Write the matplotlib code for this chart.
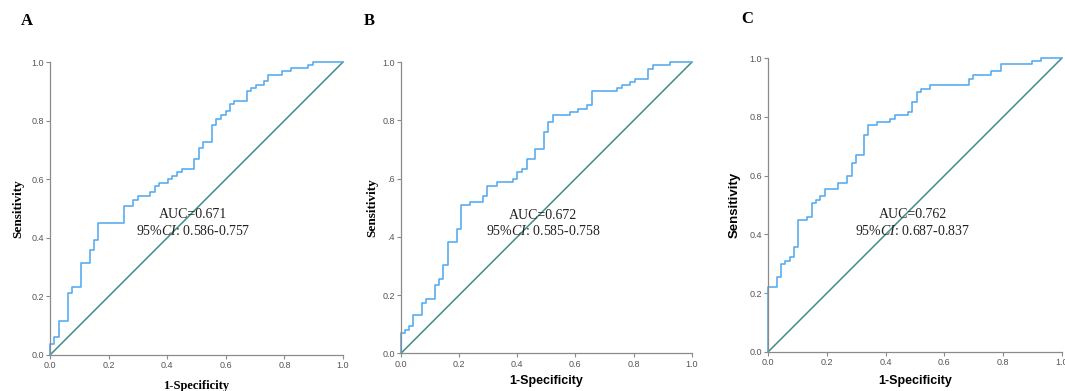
import matplotlib
matplotlib.use("Agg")
import matplotlib.pyplot as plt

plt.rcParams["mathtext.fontset"] = "custom"
plt.rcParams["mathtext.rm"] = "Liberation Serif"
plt.rcParams["mathtext.it"] = "Liberation Serif:italic"

# ROC step vertices (1-specificity, sensitivity)
fpr_a = [0, 0, 0.015, 0.015, 0.03, 0.03, 0.06, 0.06, 0.074, 0.074, 0.106, 0.106,
         0.136, 0.136, 0.15, 0.15, 0.165, 0.165, 0.253, 0.253, 0.284, 0.284,
         0.299, 0.299, 0.343, 0.343, 0.358, 0.358, 0.373, 0.373, 0.403, 0.403,
         0.418, 0.418, 0.432, 0.432, 0.449, 0.449, 0.492, 0.492, 0.508, 0.508,
         0.523, 0.523, 0.553, 0.553, 0.568, 0.568, 0.582, 0.582, 0.599, 0.599,
         0.614, 0.614, 0.628, 0.628, 0.673, 0.673, 0.6875, 0.6875, 0.702, 0.702,
         0.73, 0.73, 0.744, 0.744, 0.793, 0.793, 0.824, 0.824, 0.88, 0.88,
         0.898, 0.898, 1.0]
tpr_a = [0, 0.0375, 0.0375, 0.06, 0.06, 0.117, 0.117, 0.21, 0.21, 0.233, 0.233,
         0.3125, 0.3125, 0.36, 0.36, 0.394, 0.394, 0.451, 0.451, 0.508, 0.508,
         0.53, 0.53, 0.544, 0.544, 0.556, 0.556, 0.576, 0.576, 0.588, 0.588,
         0.6, 0.6, 0.61, 0.61, 0.624, 0.624, 0.635, 0.635, 0.669, 0.669, 0.705,
         0.705, 0.727, 0.727, 0.784, 0.784, 0.807, 0.807, 0.82, 0.82, 0.832,
         0.832, 0.855, 0.855, 0.866, 0.866, 0.9, 0.9, 0.911, 0.911, 0.923,
         0.923, 0.934, 0.934, 0.957, 0.957, 0.968, 0.968, 0.98, 0.98, 0.989,
         0.989, 1.0, 1.0]

fpr_b = [0, 0, 0.014, 0.014, 0.029, 0.029, 0.042, 0.042, 0.071, 0.071, 0.086,
         0.086, 0.117, 0.117, 0.131, 0.131, 0.146, 0.146, 0.163, 0.163, 0.192,
         0.192, 0.206, 0.206, 0.237, 0.237, 0.283, 0.283, 0.297, 0.297, 0.329,
         0.329, 0.386, 0.386, 0.4, 0.4, 0.415, 0.415, 0.432, 0.432, 0.461,
         0.461, 0.492, 0.492, 0.507, 0.507, 0.522, 0.522, 0.581, 0.581, 0.61,
         0.61, 0.641, 0.641, 0.656, 0.656, 0.742, 0.742, 0.759, 0.759, 0.788,
         0.788, 0.805, 0.805, 0.851, 0.851, 0.866, 0.866, 0.925, 0.925, 1.0]
tpr_b = [0, 0.071, 0.071, 0.08, 0.08, 0.094, 0.094, 0.13, 0.13, 0.174, 0.174,
         0.186, 0.186, 0.234, 0.234, 0.257, 0.257, 0.302, 0.302, 0.383, 0.383,
         0.428, 0.428, 0.508, 0.508, 0.519, 0.519, 0.542, 0.542, 0.576, 0.576,
         0.589, 0.589, 0.6, 0.6, 0.623, 0.623, 0.635, 0.635, 0.669, 0.669,
         0.703, 0.703, 0.761, 0.761, 0.795, 0.795, 0.818, 0.818, 0.83, 0.83,
         0.841, 0.841, 0.853, 0.853, 0.902, 0.902, 0.91, 0.91, 0.921, 0.921,
         0.933, 0.933, 0.944, 0.944, 0.978, 0.978, 0.99, 0.99, 1.0, 1.0]

fpr_c = [0, 0, 0.028, 0.028, 0.043, 0.043, 0.057, 0.057, 0.074, 0.074, 0.089,
         0.089, 0.102, 0.102, 0.133, 0.133, 0.148, 0.148, 0.1625, 0.1625,
         0.176, 0.176, 0.193, 0.193, 0.239, 0.239, 0.267, 0.267, 0.284, 0.284,
         0.299, 0.299, 0.326, 0.326, 0.341, 0.341, 0.369, 0.369, 0.415, 0.415,
         0.432, 0.432, 0.475, 0.475, 0.491, 0.491, 0.506, 0.506, 0.52, 0.52,
         0.551, 0.551, 0.685, 0.685, 0.699, 0.699, 0.759, 0.759, 0.792, 0.792,
         0.898, 0.898, 0.928, 0.928, 1.0]
tpr_c = [0, 0.219, 0.219, 0.253, 0.253, 0.298, 0.298, 0.309, 0.309, 0.324,
         0.324, 0.358, 0.358, 0.449, 0.449, 0.46, 0.46, 0.506, 0.506, 0.517,
         0.517, 0.53, 0.53, 0.553, 0.553, 0.576, 0.576, 0.599, 0.599, 0.644,
         0.644, 0.669, 0.669, 0.7375, 0.7375, 0.772, 0.772, 0.783, 0.783,
         0.794, 0.794, 0.806, 0.806, 0.817, 0.817, 0.851, 0.851, 0.885, 0.885,
         0.897, 0.897, 0.908, 0.908, 0.931, 0.931, 0.942, 0.942, 0.957, 0.957,
         0.98, 0.98, 0.991, 0.991, 1.0, 1.0]

panel_letters = ["A", "B", "C"]
auc_labels = ["AUC=0.671", "AUC=0.672", "AUC=0.762"]
ci_labels = ["0.586-0.757", "0.585-0.758", "0.687-0.837"]
ytick_labels = [
    ["0.0", "0.2", "0.4", "0.6", "0.8", "1.0"],
    ["0.0", "0.2", ".4", ".6", "0.8", "1.0"],
    ["0.0", "0.2", "0.4", "0.6", "0.8", "1.0"],
]
xtick_labels = ["0.0", "0.2", "0.4", "0.6", "0.8", "1.0"]

curve_color = "#5aadf0"
diag_color = "#3f8d86"
axis_gray = "#8a8a8a"

W, H = 1065, 391
# axes boxes in pixels: left, top, right, bottom
boxes = [(50, 62, 343, 355), (401, 62.3, 691.7, 353.3), (768.3, 58.3, 1061.7, 351.7)]
letter_pos = [(27, 21), (369, 21), (747, 19)]
text_pos = [(0.488, 0.478, 0.423), (0.49, 0.475, 0.42), (0.493, 0.466, 0.411)]
xlabel_font = ["Liberation Serif", "Liberation Sans", "Liberation Sans"]
ylabel_font = ["Liberation Serif", "Liberation Serif", "Liberation Sans"]
ylabel_pad = [5, 3, 6]
xlabel_pad = [7, 5, 6]

fig = plt.figure(figsize=(W / 100, H / 100), dpi=100)

curves = [(fpr_a, tpr_a), (fpr_b, tpr_b), (fpr_c, tpr_c)]
for i, (fpr, tpr) in enumerate(curves):
    l, t, r, b = boxes[i]
    ax = fig.add_axes([l / W, (H - b) / H, (r - l) / W, (b - t) / H])
    ax.plot([0, 1], [0, 1], color=diag_color, lw=1.1, clip_on=False)
    ax.plot(fpr, tpr, color=curve_color, lw=1.2, clip_on=False)
    ax.set_xlim(0, 1)
    ax.set_ylim(0, 1)
    ax.spines["top"].set_visible(False)
    ax.spines["right"].set_visible(False)
    for s in ("left", "bottom"):
        ax.spines[s].set_color(axis_gray)
        ax.spines[s].set_linewidth(0.9)
    ticks = [0, 0.2, 0.4, 0.6, 0.8, 1.0]
    ax.set_xticks(ticks)
    ax.set_yticks(ticks)
    ax.set_xticklabels(xtick_labels)
    ax.set_yticklabels(ytick_labels[i])
    ax.tick_params(length=3, width=0.8, color=axis_gray, labelcolor="#555555",
                   labelsize=6.5, pad=1.5)
    for lab in ax.get_xticklabels() + ax.get_yticklabels():
        lab.set_family("Liberation Sans")

    ax.set_xlabel("1-Specificity", fontsize=9, fontweight="bold",
                  family=xlabel_font[i], labelpad=xlabel_pad[i])
    ax.set_ylabel("Sensitivity", fontsize=9.5, fontweight="bold",
                  family=ylabel_font[i], labelpad=ylabel_pad[i])

    tx, ty1, ty2 = text_pos[i]
    ax.text(tx, ty1, auc_labels[i], ha="center", va="center", fontsize=10,
            family="Liberation Serif", color="#222222")
    ax.text(tx, ty2, r"95%$\mathit{CI}$: " + ci_labels[i], ha="center",
            va="center", fontsize=10, family="Liberation Serif", color="#222222")

    lx, ly = letter_pos[i]
    fig.text(lx / W, 1 - ly / H, panel_letters[i], ha="center", va="center",
             fontsize=12, fontweight="bold", family="Liberation Serif")

fig.savefig("out.png", dpi=100, facecolor="white")
